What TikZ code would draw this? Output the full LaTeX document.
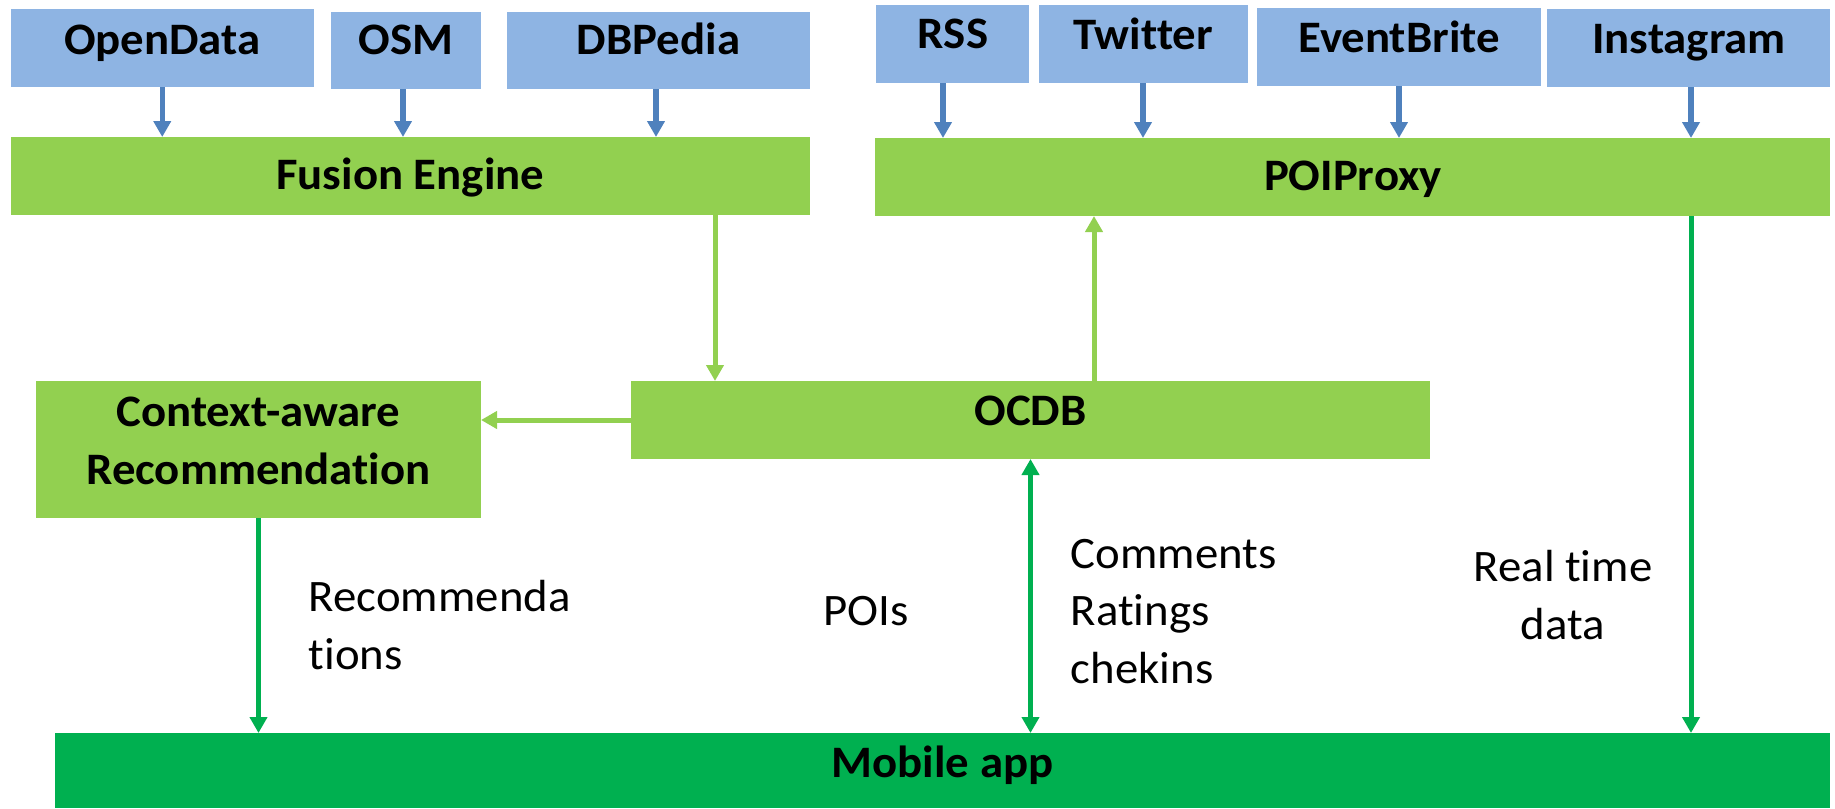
\documentclass[tikz,border=0pt]{standalone}
\usepackage{fontspec}
\setmainfont{Carlito}[FakeStretch=1.04, Ligatures={NoCommon}, RawFeature={-liga;-dlig;-clig}]
\usetikzlibrary{arrows.meta}
\definecolor{boxblue}{HTML}{8EB4E3}
\definecolor{boxgreen}{HTML}{92D050}
\definecolor{darkgreen}{HTML}{00B050}
\definecolor{arrowblue}{HTML}{4F81BD}
\begin{document}
\begin{tikzpicture}[x=1pt,y=-1pt,
  box/.style={inner sep=0pt, outer sep=0pt, draw=none},
  src/.style={box, fill=boxblue},
  proc/.style={box, fill=boxgreen},
  mob/.style={box, fill=darkgreen},
  lbl/.style={inner sep=0pt, anchor=base, font=\fontsize{45}{55}\selectfont\bfseries},
  txt/.style={inner sep=0pt, font=\fontsize{45}{55}\selectfont},
  bluearrow/.style={draw=arrowblue, line width=5.5pt, -{Triangle[length=16pt,width=17pt]}},
  lgarrow/.style={draw=boxgreen, line width=5pt, -{Triangle[length=16pt,width=17pt]}},
  dgarrow/.style={draw=darkgreen, line width=5pt, -{Triangle[length=16pt,width=17pt]}},
  dgboth/.style={draw=darkgreen, line width=5pt, {Triangle[length=16pt,width=17pt]}-{Triangle[length=16pt,width=17pt]}}
]
\useasboundingbox (0,0) rectangle (1835,808);

% source boxes
\node[src, minimum width=303.5pt, minimum height=78pt] (od) at (162.25,48) {};
\node[src, minimum width=150.5pt, minimum height=77pt] (osm) at (405.75,50.5) {};
\node[src, minimum width=303pt, minimum height=77pt] (dbp) at (658.5,50.5) {};
\node[src, minimum width=153.5pt, minimum height=78pt] (rss) at (952.25,44) {};
\node[src, minimum width=209pt, minimum height=78pt] (tw) at (1143,44) {};
\node[src, minimum width=284pt, minimum height=78pt] (eb) at (1399,47) {};
\node[src, minimum width=283pt, minimum height=78pt] (ig) at (1688.5,48) {};

% process boxes
\node[proc, minimum width=799.5pt, minimum height=78pt] (fe) at (410.25,176) {};
\node[proc, minimum width=955pt, minimum height=78pt] (pp) at (1352.5,177) {};
\node[proc, minimum width=445pt, minimum height=137pt] (ctx) at (258.5,449.5) {};
\node[proc, minimum width=799pt, minimum height=78pt] (ocdb) at (1030.5,420) {};
\node[mob, minimum width=1775pt, minimum height=75pt] (mob) at (942.5,770.5) {};

% box labels
\node[lbl] (odt) at (162.25,55) {OpenData};
\node[lbl] (osmt) at (405.75,55) {OSM};
\node[lbl] (dbpt) at (658.5,55) {DBPedia};
\node[lbl] (rsst) at (953,48.5) {RSS};
\node[lbl] (twt) at (1143,49.3) {Twitter};
\node[lbl] (ebt) at (1399,52.7) {EventBrite};
\node[lbl] (igt) at (1689,53.3) {Instagram};
\node[lbl] (fet) at (410.25,189.3) {Fusion Engine};
\node[lbl] (ppt) at (1353,190.7) {POIProxy};
\node[lbl] (ctxt1) at (258.5,426.7) {Context-aware};
\node[lbl] (ctxt2) at (258.5,484) {Recommendation};
\node[lbl] (ocdbt) at (1030.5,425) {OCDB};
\node[lbl] (mobt) at (942.5,777) {Mobile app};

% helper x positions
\coordinate (xrss) at (943,0);
\coordinate (xig) at (1691,0);
\coordinate (xfe) at (715,0);
\coordinate (xpp) at (1094,0);
\coordinate (xosm) at (403,0);
\coordinate (xdbp) at (656,0);

% blue arrows
\draw[bluearrow] (od.south) -- (od.south |- fe.north);
\draw[bluearrow] (osm.south -| xosm) -- (fe.north -| xosm);
\draw[bluearrow] (dbp.south -| xdbp) -- (fe.north -| xdbp);
\draw[bluearrow] (rss.south -| xrss) -- (pp.north -| xrss);
\draw[bluearrow] (tw.south) -- (tw.south |- pp.north);
\draw[bluearrow] (eb.south) -- (eb.south |- pp.north);
\draw[bluearrow] (ig.south -| xig) -- (pp.north -| xig);

% green arrows
\draw[lgarrow] (fe.south -| xfe) -- (ocdb.north -| xfe);
\draw[lgarrow] (ocdb.north -| xpp) -- (pp.south -| xpp);
\draw[lgarrow] (ocdb.west) -- (ocdb.west -| ctx.east);
\draw[dgarrow] (ctx.south) -- (ctx.south |- mob.north);
\draw[dgboth] (ocdb.south) -- (ocdb.south |- mob.north);
\draw[dgarrow] (pp.south -| xig) -- (mob.north -| xig);

% connector labels
\node[txt, anchor=base west] (rec1) at (308.7,611.7) {Recommenda};
\node[txt, anchor=base west] (rec2) at (308.7,669) {tions};
\node[txt, anchor=base west] (pois) at (823,625.7) {POIs};
\node[txt, anchor=base west] (cm1) at (1070.6,568) {Comments};
\node[txt, anchor=base west] (cm2) at (1070.6,625.7) {Ratings};
\node[txt, anchor=base west] (cm3) at (1070.6,683) {chekins};
\node[txt, anchor=base] (rt1) at (1563,581.7) {Real time};
\node[txt, anchor=base] (rt2) at (1563,639) {data};
\end{tikzpicture}
\end{document}
